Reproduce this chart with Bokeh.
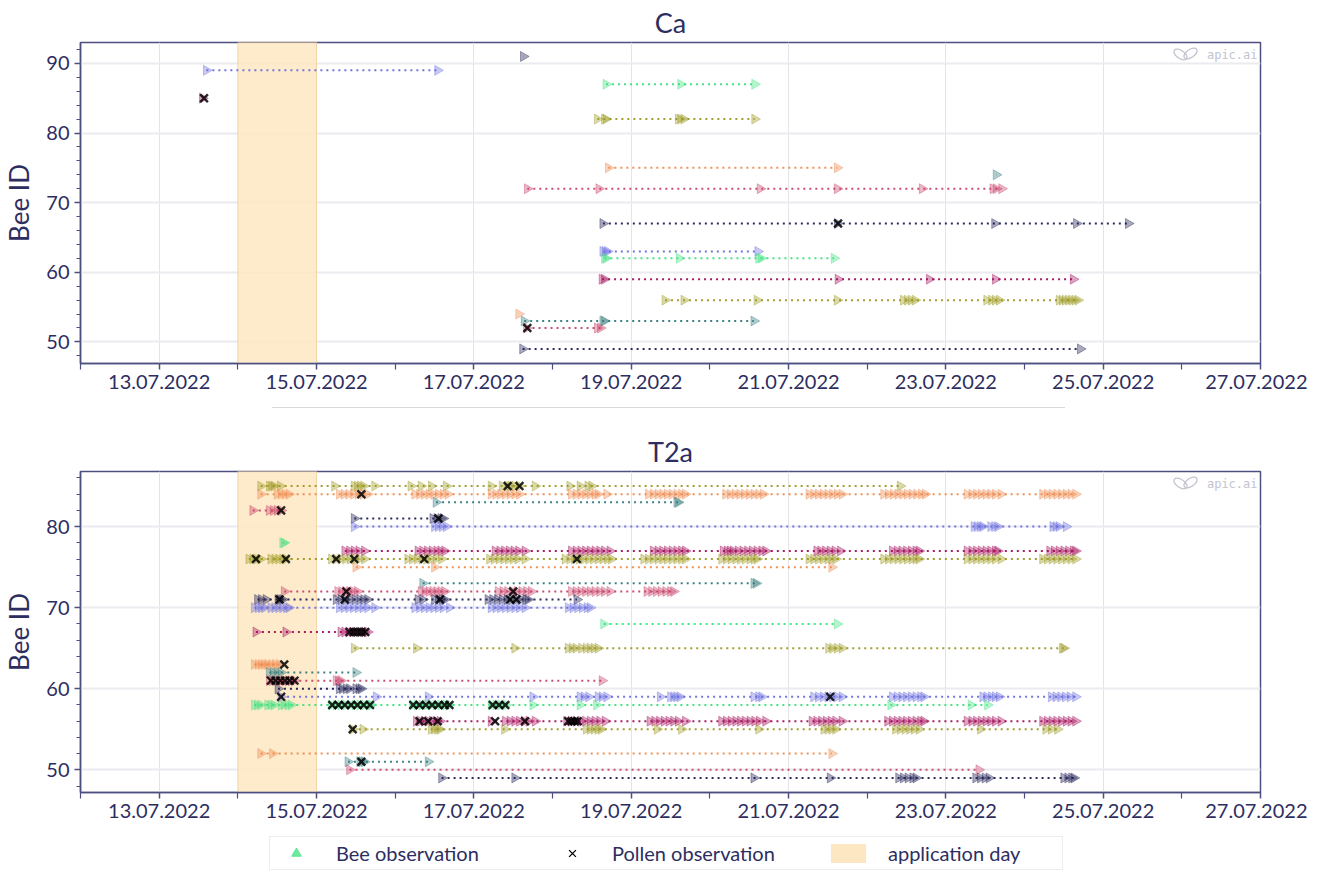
import math
from bokeh.plotting import figure
from bokeh.models import (FixedTicker, SingleIntervalTicker, BoxAnnotation, Range1d,
                          Legend, LegendItem, Div, Label, ColumnDataSource)
from bokeh.layouts import column
from bokeh.embed import file_html
from bokeh.resources import INLINE

# ---------------- data (x values = day of July 2022, fractional) ----------------
X_RANGE = (12.0, 27.0)
APPLICATION_DAY = (14.0, 15.0)
TICK_DAYS = [13, 15, 17, 19, 21, 23, 25, 27]
MINOR_DAYS = [12, 14, 16, 18, 20, 22, 24, 26]
TICK_LABELS = ["13.07.2022", "15.07.2022", "17.07.2022", "19.07.2022",
               "21.07.2022", "23.07.2022", "25.07.2022", "27.07.2022"]
LEGEND_LABELS = ["Bee observation", "Pollen observation", "application day"]

# ---- Ca ----
ca_bee_ids = [91, 89, 87, 85, 82, 75, 74, 72, 67, 63, 62, 59, 56, 54, 53, 52, 49]
ca_obs_days = [
    [17.63],
    [13.60, 16.54],
    [18.68, 19.63, 20.57],
    [13.55],
    [18.57, 18.66, 18.68, 19.60, 19.63, 19.67, 20.57],
    [18.71, 21.62],
    [23.64],
    [17.68, 18.59, 20.64, 21.62, 22.70, 23.60, 23.64, 23.71],
    [18.64, 21.62, 23.62, 24.66, 25.32],
    [18.64, 18.67, 18.70, 20.61],
    [18.66, 18.68, 19.61, 20.62, 20.65, 21.58],
    [18.63, 18.66, 21.63, 22.79, 23.63, 24.62],
    [19.43, 19.67, 20.60, 21.62, 22.46, 22.51, 22.56, 22.61, 23.52, 23.58, 23.63,
     23.68, 24.44, 24.48, 24.52, 24.56, 24.60, 24.64, 24.68],
    [17.57],
    [17.64, 18.64, 18.66, 20.56],
    [17.67, 18.57, 18.61],
    [17.62, 24.71],
]
ca_pollen_bee = [85, 67, 52]
ca_pollen_day = [13.57, 21.63, 17.68]

# ---- T2a ----
t2a_bee_ids = [85, 84, 83, 82, 81, 80, 78, 77, 76, 75, 73, 72, 71, 70, 68, 67, 65,
               63, 62, 61, 60, 59, 58, 56, 55, 52, 51, 50, 49]
t2a_obs_days = [
    # 85
    [14.29, 14.40, 14.43, 14.46, 14.54, 15.23, 15.48, 15.52, 15.56, 15.60, 15.74, 16.20,
     16.33, 16.46, 16.65, 17.22, 17.36, 17.43, 17.47, 17.52, 17.58, 17.78, 18.22, 18.35,
     18.45, 18.50, 22.42],
    # 84
    [14.29, 14.50, 14.55, 14.60, 14.65, 15.29, 15.35, 15.41, 15.47, 15.53, 15.59, 15.65,
     16.25, 16.31, 16.37, 16.43, 16.49, 16.55, 16.61, 16.67, 17.22, 17.28, 17.34, 17.40,
     17.46, 17.52, 17.58, 18.24, 18.30, 18.36, 18.42, 18.48, 18.54, 18.58, 18.69, 19.22,
     19.28, 19.34, 19.40, 19.46, 19.52, 19.58, 19.64, 19.69, 20.20, 20.26, 20.32, 20.38,
     20.44, 20.50, 20.56, 20.62, 20.68, 21.26, 21.32, 21.38, 21.44, 21.50, 21.56, 21.62,
     21.68, 22.21, 22.27, 22.33, 22.39, 22.45, 22.51, 22.57, 22.63, 22.69, 22.74, 23.27,
     23.33, 23.39, 23.45, 23.51, 23.57, 23.63, 23.70, 24.23, 24.29, 24.35, 24.41, 24.47,
     24.53, 24.59, 24.65],
    # 83
    [16.52, 19.58, 19.60],
    # 82
    [14.19, 14.40, 14.45, 14.50, 14.55],
    # 81
    [15.48, 16.48, 16.53, 16.58, 16.61],
    # 80
    [15.48, 16.50, 16.55, 16.60, 16.65, 23.36, 23.40, 23.44, 23.47, 23.57, 23.62, 23.66,
     24.36, 24.40, 24.44, 24.53],
    # 78
    [14.57, 14.59],
    # 77
    [15.36, 15.42, 15.48, 15.54, 15.61, 16.29, 16.35, 16.41, 16.47, 16.53, 16.58, 16.63,
     17.27, 17.33, 17.39, 17.45, 17.51, 17.57, 17.65, 18.24, 18.30, 18.36, 18.42, 18.48,
     18.54, 18.60, 18.66, 18.73, 19.28, 19.34, 19.40, 19.46, 19.52, 19.58, 19.64, 19.69,
     20.17, 20.22, 20.26, 20.30, 20.36, 20.42, 20.48, 20.54, 20.60, 20.66, 20.71, 21.36,
     21.41, 21.47, 21.53, 21.59, 21.66, 22.32, 22.38, 22.44, 22.50, 22.56, 22.62, 22.66,
     23.27, 23.33, 23.39, 23.45, 23.51, 23.57, 23.63, 23.66, 24.32, 24.38, 24.44, 24.50,
     24.56, 24.62, 24.65],
    # 76
    [14.14, 14.19, 14.24, 14.29, 14.42, 14.47, 14.52, 14.57, 14.61, 15.19, 15.25, 15.31,
     15.37, 15.43, 15.49, 15.55, 15.61, 16.16, 16.22, 16.28, 16.34, 16.40, 16.46, 16.52,
     16.59, 17.20, 17.26, 17.32, 17.38, 17.44, 17.50, 17.56, 17.65, 18.16, 18.22, 18.28,
     18.34, 18.40, 18.46, 18.52, 18.58, 18.64, 18.70, 18.75, 19.16, 19.22, 19.28, 19.34,
     19.40, 19.46, 19.52, 19.58, 19.64, 19.69, 20.15, 20.21, 20.27, 20.33, 20.39, 20.45,
     20.51, 20.56, 20.60, 21.26, 21.32, 21.38, 21.44, 21.50, 21.55, 21.60, 22.21, 22.27,
     22.33, 22.39, 22.45, 22.51, 22.57, 22.62, 22.66, 23.27, 23.33, 23.39, 23.45, 23.51,
     23.57, 23.63, 23.70, 24.23, 24.29, 24.35, 24.41, 24.47, 24.53, 24.59, 24.65],
    # 75
    [15.50, 16.50, 21.55],
    # 73
    [16.35, 20.56, 20.59],
    # 72
    [14.59, 15.27, 15.32, 15.37, 15.42, 15.47, 15.52, 16.33, 16.38, 16.43, 16.48, 16.53,
     16.58, 16.63, 17.31, 17.37, 17.43, 17.49, 17.55, 17.61, 17.67, 17.73, 18.24, 18.30,
     18.36, 18.42, 18.48, 18.54, 18.60, 18.66, 18.73, 19.20, 19.26, 19.32, 19.38, 19.44,
     19.50, 19.54],
    # 71
    [14.25, 14.30, 14.36, 14.51, 14.54, 14.57, 15.25, 15.31, 15.37, 15.43, 15.49, 15.55,
     15.60, 15.65, 16.29, 16.35, 16.50, 16.55, 16.60, 16.63, 17.18, 17.24, 17.30, 17.36,
     17.42, 17.48, 17.54, 17.60, 17.66, 17.69, 18.31],
    # 70
    [14.21, 14.26, 14.30, 14.34, 14.42, 14.47, 14.52, 14.57, 14.62, 14.65, 15.29, 15.35,
     15.41, 15.47, 15.53, 15.59, 15.65, 15.74, 16.25, 16.31, 16.37, 16.43, 16.49, 16.55,
     16.61, 16.69, 17.22, 17.28, 17.34, 17.40, 17.46, 17.52, 17.58, 17.65, 18.20, 18.26,
     18.32, 18.38, 18.44, 18.48],
    # 68
    [18.65, 21.62],
    # 67
    [14.23, 14.61, 15.31, 15.36, 15.41, 15.46, 15.51, 15.56, 15.61, 15.65],
    # 65
    [15.48, 16.27, 17.52, 18.20, 18.25, 18.30, 18.37, 18.43, 18.48, 18.53, 18.58, 21.51,
     21.56, 21.62, 21.68, 24.48, 24.50],
    # 63
    [14.21, 14.26, 14.30, 14.34, 14.38, 14.43, 14.48, 14.53],
    # 62
    [14.40, 14.45, 14.50, 14.55, 15.50],
    # 61
    [14.40, 14.44, 14.48, 14.52, 14.56, 14.60, 14.64, 14.68, 14.72, 15.25, 15.28, 15.31,
     18.63],
    # 60
    [14.51, 15.29, 15.33, 15.38, 15.42, 15.50, 15.54, 15.57],
    # 59
    [14.55, 15.76, 16.42, 17.75, 18.35, 18.40, 18.46, 18.58, 18.63, 18.69, 19.37, 19.50,
     19.54, 19.58, 19.62, 20.56, 20.62, 20.66, 21.32, 21.38, 21.44, 21.50, 21.56, 21.62,
     21.68, 22.32, 22.38, 22.44, 22.50, 22.56, 22.62, 22.68, 22.72, 23.47, 23.52, 23.58,
     23.63, 23.68, 24.34, 24.40, 24.46, 24.52, 24.58, 24.65],
    # 58
    [14.21, 14.25, 14.29, 14.38, 14.42, 14.46, 14.55, 14.59, 14.64, 14.68, 15.19, 15.25,
     15.31, 15.37, 15.43, 15.49, 15.55, 15.61, 15.67, 15.70, 16.22, 16.28, 16.34, 16.40,
     16.46, 16.52, 16.58, 16.64, 16.69, 17.22, 17.28, 17.34, 17.41, 17.75, 18.35, 18.56,
     22.30, 23.32, 23.53],
    # 56
    [16.27, 16.32, 16.37, 16.42, 16.47, 16.52, 16.57, 17.22, 17.40, 17.46, 17.52, 17.58,
     17.64, 17.70, 17.78, 18.18, 18.24, 18.30, 18.36, 18.42, 18.48, 18.54, 18.60, 18.67,
     19.24, 19.30, 19.36, 19.42, 19.48, 19.54, 19.60, 19.69, 20.15, 20.21, 20.27, 20.33,
     20.39, 20.45, 20.51, 20.57, 20.63, 20.71, 21.30, 21.36, 21.42, 21.48, 21.54, 21.60,
     21.68, 22.26, 22.32, 22.38, 22.44, 22.50, 22.56, 22.62, 22.68, 22.72, 23.27, 23.33,
     23.39, 23.45, 23.51, 23.57, 23.63, 23.70, 24.23, 24.29, 24.35, 24.41, 24.47, 24.53,
     24.59, 24.65],
    # 55
    [15.46, 15.59, 16.46, 16.50, 16.54, 16.57, 17.39, 18.43, 18.48, 18.53, 18.58, 18.62,
     19.33, 19.64, 20.62, 21.45, 21.50, 21.55, 21.60, 22.36, 22.42, 22.48, 22.54, 22.60,
     22.66, 23.44, 24.27, 24.34, 24.42],
    # 52
    [14.29, 14.44, 21.55],
    # 51
    [15.40, 15.55, 15.58, 15.61, 16.42],
    # 50
    [15.42, 23.42],
    # 49
    [16.59, 17.52, 20.56, 21.53, 22.40, 22.46, 22.52, 22.58, 22.62, 23.38, 23.44, 23.50,
     23.55, 24.50, 24.55, 24.60, 24.63],
]
t2a_pollen_bee = [85, 85, 84, 82, 81, 76, 76, 76, 76, 76, 76, 72, 72, 71, 71, 71, 71, 71,
                  67, 67, 67, 67, 67, 63, 61, 61, 61, 61, 61, 61, 59, 59,
                  58, 58, 58, 58, 58, 58, 58, 58, 58, 58, 58, 58, 58, 58, 58, 58, 58,
                  56, 56, 56, 56, 56, 56, 56, 56, 56, 55, 51]
t2a_pollen_day = [17.43, 17.58, 15.57, 14.55, 16.55, 14.23, 14.61, 15.25, 15.48, 16.37, 18.31,
                  15.38, 17.50, 14.53, 15.36, 16.57, 17.46, 17.54,
                  15.42, 15.47, 15.52, 15.57, 15.62, 14.59, 14.42, 14.48, 14.54, 14.60, 14.66,
                  14.72, 14.55, 21.53,
                  15.20, 15.28, 15.36, 15.44, 15.52, 15.60, 15.68, 16.23, 16.31, 16.39, 16.47,
                  16.55, 16.63, 16.69, 17.24, 17.32, 17.40,
                  16.31, 16.42, 16.54, 17.27, 17.65, 18.20, 18.24, 18.28, 18.32, 15.46, 15.57]

# ---------------- style ----------------
FONT = "Lato"
TEXT = "#2d2e5f"
AXIS = "#4d4f80"
BEE_COLORS = ["#1f1f55", "#c8436a", "#347b7e", "#f08a4b",
              "#9d9a22", "#a5115c", "#3de37f", "#6b6ee0"]
BAND_FILL = "#fde7c2"
MARK = "#c3c3cf"
FRAME_W, FRAME_H = 1180, 321


def make_panel(title, bee_ids, obs_days, pollen_bee, pollen_day, y_range, bottom):
    p = figure(title=title, output_backend="svg", toolbar_location=None,
               frame_width=FRAME_W, frame_height=FRAME_H,
               x_range=Range1d(*X_RANGE), y_range=Range1d(*y_range),
               min_border_left=78, min_border_right=47, min_border_top=42,
               min_border_bottom=bottom, background_fill_color="white",
               border_fill_color="white")
    p.title.align = "center"
    p.title.text_font = FONT
    p.title.text_font_size = "27px"
    p.title.text_font_style = "normal"
    p.title.text_color = TEXT
    p.title.standoff = 7

    p.outline_line_color = AXIS
    p.outline_line_width = 1.5
    p.outline_line_alpha = 1

    p.xaxis.ticker = FixedTicker(ticks=TICK_DAYS, minor_ticks=MINOR_DAYS)
    p.xaxis.major_label_overrides = {d: lab for d, lab in zip(TICK_DAYS, TICK_LABELS)}
    p.yaxis.ticker = SingleIntervalTicker(interval=10, num_minor_ticks=5)
    p.yaxis.axis_label = "Bee ID"
    p.yaxis.axis_label_text_font = FONT
    p.yaxis.axis_label_text_font_size = "26px"
    p.yaxis.axis_label_text_font_style = "normal"
    p.yaxis.axis_label_text_color = TEXT
    p.yaxis.axis_label_standoff = 8
    for ax in (p.xaxis, p.yaxis):
        ax.axis_line_color = AXIS
        ax.axis_line_width = 1.5
        ax.major_tick_line_color = AXIS
        ax.minor_tick_line_color = AXIS
        ax.major_tick_line_width = 1.5
        ax.minor_tick_line_width = 1.2
        ax.major_tick_in = 0
        ax.minor_tick_in = 0
        ax.major_tick_out = 6
        ax.major_label_text_font = FONT
        ax.major_label_text_font_size = "20px"
        ax.major_label_text_color = TEXT
        ax.major_label_standoff = 5
    p.xaxis.minor_tick_out = 6
    p.yaxis.minor_tick_out = 4

    p.xgrid.grid_line_color = "#e4e4e8"
    p.xgrid.grid_line_width = 1
    p.ygrid.grid_line_color = "#ebebef"
    p.ygrid.grid_line_width = 2

    band = BoxAnnotation(left=APPLICATION_DAY[0], right=APPLICATION_DAY[1],
                         fill_color=BAND_FILL, fill_alpha=0.85,
                         line_color="#f3cf98", line_alpha=0.8, line_width=1,
                         level="underlay")
    p.add_layout(band)

    order = sorted(bee_ids)
    color_of = {b: BEE_COLORS[order.index(b) % len(BEE_COLORS)] for b in bee_ids}

    # dotted connection lines
    seg = ColumnDataSource(dict(
        x0=[min(d) for d in obs_days], x1=[max(d) for d in obs_days],
        y=bee_ids, c=[color_of[b] for b in bee_ids]))
    p.segment(x0="x0", x1="x1", y0="y", y1="y", source=seg, line_color="c",
              line_width=2, line_dash="2 4", line_alpha=0.95)

    # bee observations
    xs, ys, cs = [], [], []
    for b, days in zip(bee_ids, obs_days):
        for d in days:
            xs.append(d)
            ys.append(b)
            cs.append(color_of[b])
    p.scatter(x=xs, y=ys, marker="triangle", angle=-math.pi / 2, size=10,
              fill_color=cs, line_color=cs, fill_alpha=0.38, line_alpha=0.38)

    # pollen observations
    p.scatter(x=pollen_day, y=pollen_bee, marker="x", size=11, line_color="black",
              line_width=2.4, line_alpha=0.85)

    # watermark
    top = y_range[1]
    ppu = FRAME_H / (y_range[1] - y_range[0])
    ppd = FRAME_W / (X_RANGE[1] - X_RANGE[0])
    wy = top - 12.0 / ppu
    p.add_layout(Label(x=X_RANGE[1] - 3.0 / ppd, y=wy, text="apic.ai",
                       text_align="right", text_baseline="middle",
                       text_font="DejaVu Sans Mono", text_font_size="12px",
                       text_color=MARK))
    p.ellipse(x=[X_RANGE[1] - 80.0 / ppd, X_RANGE[1] - 70.0 / ppd],
              y=[wy, wy + 1.0 / ppu], width=[15, 15], height=[8, 8],
              angle=[-0.6, 0.6], width_units="screen", height_units="screen",
              fill_color=None, line_color=MARK, line_width=1.3)
    return p


p1 = make_panel("Ca", ca_bee_ids, ca_obs_days, ca_pollen_bee, ca_pollen_day,
                (46.9, 93.0), 33)
p2 = make_panel("T2a", t2a_bee_ids, t2a_obs_days, t2a_pollen_bee, t2a_pollen_day,
                (47.2, 86.8), 42)

# legend in its own strip below the second panel (proxy glyphs sit outside its range)
lf = figure(output_backend="svg", toolbar_location=None, frame_width=1300, frame_height=36,
            x_range=Range1d(0, 1), y_range=Range1d(0, 1), x_axis_type=None, y_axis_type=None,
            min_border_left=0, min_border_right=0, min_border_top=0, min_border_bottom=0,
            outline_line_color=None, background_fill_color="white",
            border_fill_color="white")
r_bee = lf.scatter(x=[-9], y=[-9], marker="triangle", angle=-math.pi / 2, size=8,
                   fill_color="#3de37f", line_color="#3de37f", fill_alpha=0.75, line_alpha=0.75)
r_pol = lf.scatter(x=[-9], y=[-9], marker="x", size=8, line_color="black", line_width=1.3)
r_app = lf.quad(left=[-9], right=[-8], top=[-8], bottom=[-9], fill_color=BAND_FILL,
                line_color=None)
legend = Legend(items=[LegendItem(label=LEGEND_LABELS[0], renderers=[r_bee]),
                       LegendItem(label=LEGEND_LABELS[1], renderers=[r_pol]),
                       LegendItem(label=LEGEND_LABELS[2], renderers=[r_app])],
                orientation="horizontal", location=(269, 0),
                label_text_font=FONT, label_text_font_size="20px", label_text_color=TEXT,
                glyph_width=44, glyph_height=24, label_standoff=18, spacing=44,
                label_width=170, padding=4, margin=0,
                border_line_color="#dcdcdc", border_line_width=1,
                background_fill_color="white", background_fill_alpha=1)
lf.add_layout(legend, "center")

sep = Div(text='<div style="width:793px;height:0;margin-left:272px;margin-top:2px;'
               'border-top:1px solid #d9d9d9;"></div>',
          width=1300, height=33, margin=(0, 0, 0, 0))

layout = column(p1, sep, p2, lf, spacing=0)

open("out.html", "w").write(file_html(layout, INLINE))
